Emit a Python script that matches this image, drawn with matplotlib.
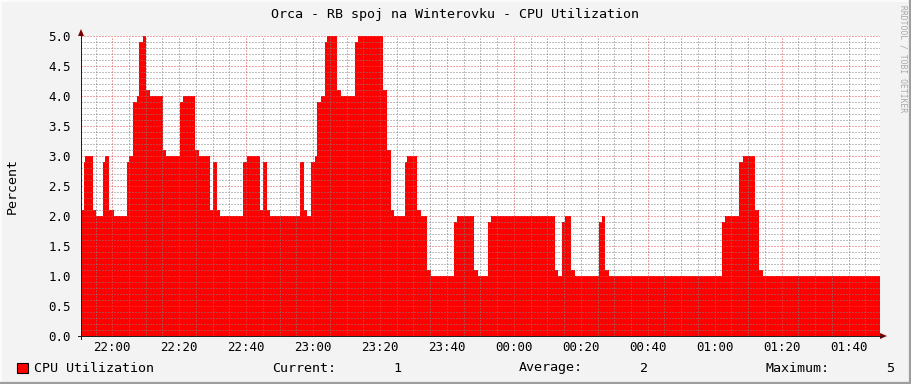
import matplotlib
matplotlib.use("Agg")
import matplotlib.pyplot as plt
from matplotlib.patches import Rectangle, Polygon
from matplotlib.lines import Line2D

# ---------------- data ----------------
title = "Orca - RB spoj na Winterovku - CPU Utilization"
y_label = "Percent"
series_name = "CPU Utilization"

# minutes since 21:50, step start times
t_start = [0.6, 1.54, 1.99, 4.14, 5.04, 7.31, 7.91, 9.10, 10.42, 14.30, 15.08,
           16.28, 17.29, 17.89, 19.26, 20.07, 21.27, 25.24, 26.05, 30.23, 31.22,
           34.81, 36.0, 39.20, 40.01, 41.20, 42.19, 49.15, 50.35, 54.14, 55.13,
           56.14, 57.13, 66.10, 67.29, 68.28, 69.29, 70.49, 71.27, 72.28, 73.48,
           74.28, 77.24, 78.26, 82.44, 83.43, 90.99, 92.0, 93.20, 94.19, 97.39,
           98.16, 101.15, 102.35, 104.14, 105.34, 112.12, 113.11, 118.10, 119.29,
           122.28, 123.27, 142.22, 143.21, 144.40, 145.39, 147.00, 148.38, 155.37,
           156.35, 157.34, 158.36, 192.22, 193.20, 197.21, 198.40, 202.17, 203.36,
           204.38]
cpu_values = [2.1, 2.9, 3.0, 2.1, 2.0, 2.9, 3.0, 2.1, 2.0, 2.9, 3.0,
              3.9, 4.0, 4.9, 5.0, 4.1, 4.0, 3.1, 3.0, 3.9, 4.0,
              3.1, 3.0, 2.1, 2.9, 2.1, 2.0, 2.9, 3.0, 2.1, 2.9,
              2.1, 2.0, 2.9, 2.1, 2.0, 2.9, 3.0, 3.9, 4.0, 4.9,
              5.0, 4.1, 4.0, 4.9, 5.0, 4.1, 3.1, 2.1, 2.0, 2.9,
              3.0, 2.1, 2.0, 1.1, 1.0, 1.9, 2.0, 1.1, 1.0,
              1.9, 2.0, 1.1, 1.0, 1.9, 2.0, 1.1, 1.0, 1.9,
              2.0, 1.1, 1.0, 1.9, 2.0, 2.9, 3.0, 2.1, 1.1,
              1.0]
t_end = 239.4

x_major = [10, 30, 50, 70, 90, 110, 130, 150, 170, 190, 210, 230]
x_labels = ["22:00", "22:20", "22:40", "23:00", "23:20", "23:40",
            "00:00", "00:20", "00:40", "01:00", "01:20", "01:40"]
y_major = [0.0, 0.5, 1.0, 1.5, 2.0, 2.5, 3.0, 3.5, 4.0, 4.5, 5.0]
y_labels = ["0.0", "0.5", "1.0", "1.5", "2.0", "2.5", "3.0", "3.5", "4.0", "4.5", "5.0"]

stat_current = "1"
stat_average = "2"
stat_maximum = "5"

# ---------------- figure ----------------
W, H = 911, 384
FONT = "DejaVu Sans Mono"
fig = plt.figure(figsize=(W / 100, H / 100), dpi=100, facecolor="#F3F3F3")

def fx(px):
    return px / W

def fy(py):
    return 1 - py / H

ax = fig.add_axes([fx(81), fy(336), fx(799), 300 / H])
ax.set_facecolor("white")

xs = t_start + [t_end]
ys = cpu_values + [cpu_values[-1]]
ax.fill_between(xs, ys, 0, step="post", color="#FF0000", lw=0, zorder=2)

ax.set_xlim(0.65, t_end)
ax.set_ylim(0, 5)

ax.set_xticks(x_major)
ax.set_xticklabels(x_labels)
ax.set_xticks([m for m in range(5, 240, 5)], minor=True)
ax.set_yticks(y_major)
ax.set_yticklabels(y_labels)
ax.set_yticks([i / 10 for i in range(0, 51)], minor=True)

ax.set_axisbelow(False)
lw = 0.72
ax.grid(which="minor", color=(0.5, 0.5, 0.5, 0.22),
        linestyle=(0, (1, 2)), linewidth=lw)
ax.grid(which="major", color=(0.9, 0.3, 0.3, 0.38),
        linestyle=(0, (1, 2)), linewidth=lw)

ax.tick_params(which="both", length=0)
ax.tick_params(axis="y", pad=7.5, labelsize=9)
ax.tick_params(axis="x", pad=3.5, labelsize=9)
for lab in ax.get_xticklabels() + ax.get_yticklabels():
    lab.set_fontfamily(FONT)

for s in ax.spines.values():
    s.set_visible(False)

# axis lines and arrows
axis_col = "#202020"
arrow_col = "#7F0000"
fig.add_artist(Line2D([fx(81), fx(81)], [fy(339), fy(32)], color=axis_col, lw=lw))
fig.add_artist(Line2D([fx(78), fx(882)], [fy(336), fy(336)], color=axis_col, lw=lw))
fig.add_artist(Polygon([[fx(78), fy(36)], [fx(84), fy(36)], [fx(81), fy(29)]],
                       closed=True, color=arrow_col, lw=0))
fig.add_artist(Polygon([[fx(880), fy(333)], [fx(880), fy(339)], [fx(887), fy(336)]],
                       closed=True, color=arrow_col, lw=0))

# title and labels
fig.text(fx(455), fy(14.5), title, ha="center", va="center", fontsize=9.6, family=FONT)
fig.text(fx(12), fy(186), y_label, ha="center", va="center", rotation=90,
         fontsize=9.6, family=FONT)
fig.text(fx(903), fy(5), "RRDTOOL / TOBI OETIKER", ha="center", va="top",
         rotation=270, fontsize=5.8, family=FONT, color="#A8A8A8")

# legend
fig.add_artist(Rectangle((fx(17), fy(373)), fx(11), 10 / H, facecolor="#FF0000",
                         edgecolor="black", lw=0.8))
ly = fy(368)
fig.text(fx(34), ly, series_name, ha="left", va="center", fontsize=9.6, family=FONT)
fig.text(fx(272), ly, "Current:", ha="left", va="center", fontsize=9.6, family=FONT)
fig.text(fx(401), ly, stat_current, ha="right", va="center", fontsize=9.6, family=FONT)
fig.text(fx(519), ly, "Average:", ha="left", va="center", fontsize=9.6, family=FONT)
fig.text(fx(648), ly, stat_average, ha="right", va="center", fontsize=9.6, family=FONT)
fig.text(fx(765), ly, "Maximum:", ha="left", va="center", fontsize=9.6, family=FONT)
fig.text(fx(894), ly, stat_maximum, ha="right", va="center", fontsize=9.6, family=FONT)

# frame shading
fig.add_artist(Line2D([0, 1], [fy(0.5), fy(0.5)], color="#FCFCFC", lw=1.4))
fig.add_artist(Line2D([fx(0.5), fx(0.5)], [0, 1], color="#FCFCFC", lw=1.4))
fig.add_artist(Line2D([0, 1], [fy(383), fy(383)], color="#9E9E9E", lw=1.6))
fig.add_artist(Line2D([fx(910), fx(910)], [0, 1], color="#9E9E9E", lw=1.6))

fig.savefig("out.png", dpi=100, facecolor=fig.get_facecolor())
